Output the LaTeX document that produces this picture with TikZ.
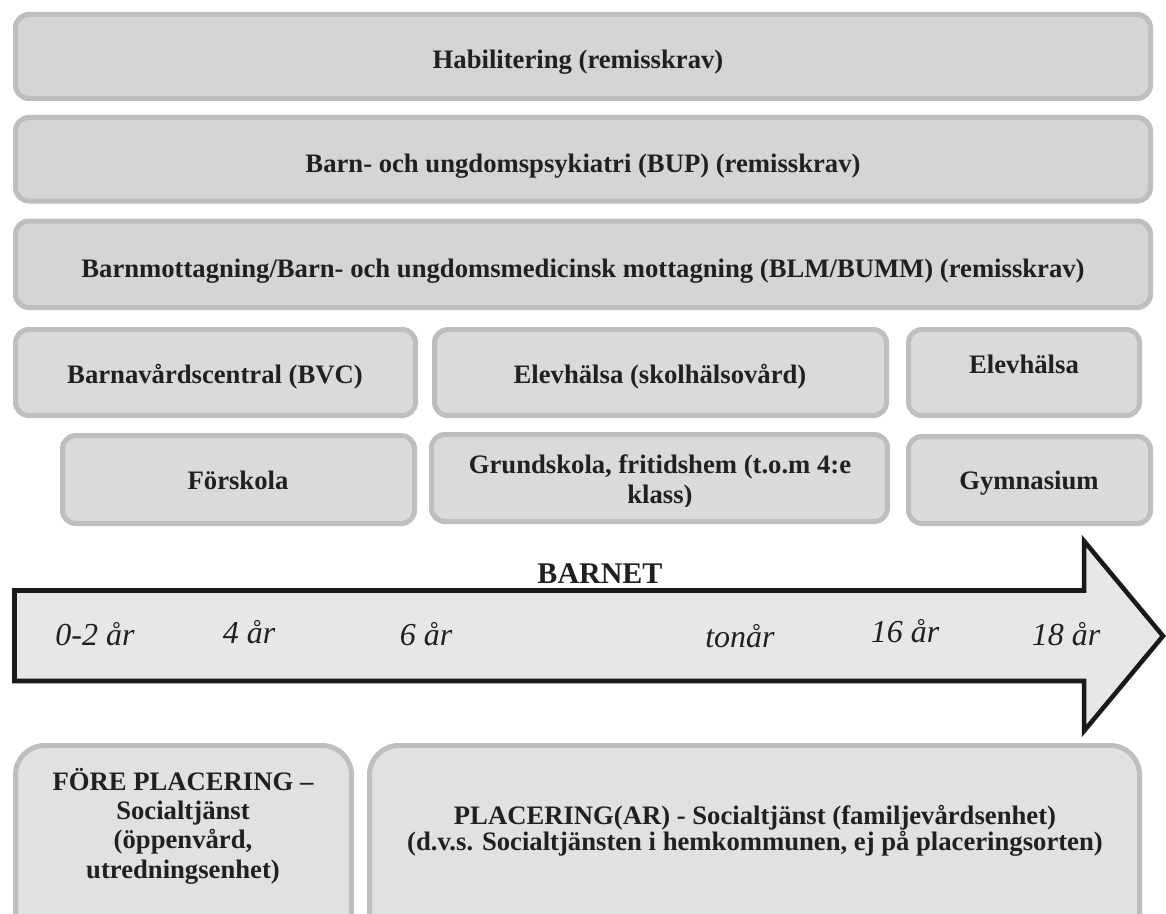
\documentclass[tikz,border=0pt]{standalone}
\usepackage{fontspec}
\setmainfont{Liberation Serif}
\usetikzlibrary{fit}
\definecolor{boxline}{HTML}{BCBEC0}
\definecolor{fillA}{HTML}{D4D5D7}
\definecolor{fillB}{HTML}{D9DADC}
\definecolor{fillC}{HTML}{E0E1E3}
\definecolor{arrowfill}{HTML}{E6E7E8}
\definecolor{textcol}{HTML}{231F20}
\begin{document}
\begin{tikzpicture}[x=0.75pt,y=-0.75pt,
  box/.style={draw=boxline, line width=3.75pt, rounded corners=10pt, inner sep=0pt},
  boxA/.style={box, fill=fillA},
  boxB/.style={box, fill=fillB},
  bigbox/.style={box, rounded corners=22pt, fill=fillC},
  lbl/.style={font=\fontsize{20}{24}\selectfont\bfseries, text=textcol, inner sep=0pt, anchor=base, align=center},
  agelbl/.style={font=\fontsize{24}{28}\selectfont\itshape, text=textcol, inner sep=0pt, anchor=base},
  bigarrow/.style={draw=black!90, line width=3.4pt, fill=arrowfill, miter limit=10}
]
\fill[white] (0,0) rectangle (1166,913);
\useasboundingbox (0,0) rectangle (1166,913);

% top full-width boxes
\node[boxA, fit={(15.5,14.5) (1150.5,98.5)}] (hab) {};
\node[lbl] (habt) at (578,69) {Habilitering (remisskrav)};
\node[boxA, fit={(15.5,117.5) (1150.5,201)}] (bup) {};
\node[lbl] (bupt) at (583,172) {Barn- och ungdomspsykiatri (BUP) (remisskrav)};
\node[boxA, fit={(15.5,221) (1150.5,307.5)}] (blm) {};
\node[lbl] (blmt) at (583,277) {Barnmottagning/Barn- och ungdomsmedicinsk mottagning (BLM/BUMM) (remisskrav)};

% row 4
\node[boxB, fit={(15.5,329.5) (415.5,415.5)}] (bvc) {};
\node[lbl] (bvct) at (215,383) {Barnavårdscentral (BVC)};
\node[boxB, fit={(434.5,329.5) (886.5,415.5)}] (elev1) {};
\node[lbl] (elev1t) at (660,383) {Elevhälsa (skolhälsovård)};
\node[boxB, fit={(908.5,329.5) (1139.5,415.5)}] (elev2) {};
\node[lbl] (elev2t) at (1024,373) {Elevhälsa};

% row 5
\node[boxB, fit={(62.5,435.5) (414.5,523.5)}] (fsk) {};
\node[lbl] (fskt) at (238,489) {Förskola};
\node[boxB, fit={(431.5,434.5) (887.5,521.5)}] (grund) {};
\begin{scope}
\clip (431.5,434.5) rectangle (887.5,506);
\node[lbl, font=\fontsize{20}{22.5}\selectfont\bfseries] (grundt) at (660,503) {Grundskola, fritidshem (t.o.m 4:e\\klass)};
\end{scope}
\node[boxB, fit={(908.5,436.5) (1150.5,523.5)}] (gym) {};
\node[lbl] (gymt) at (1029,489) {Gymnasium};

% arrow
\draw[bigarrow] (14.5,590.5) -- (1084,590.5) -- (1084,541) -- (1163,636) -- (1084,731) -- (1084,681) -- (14.5,681) -- cycle;
\node[lbl, font=\fontsize{22.5}{26}\selectfont\bfseries] (barnet) at (600,583) {BARNET};
\node[agelbl] (a1) at (95,645) {0-2 år};
\node[agelbl] (a2) at (249,643) {4 år};
\node[agelbl] (a3) at (426,645) {6 år};
\node[agelbl] (a4) at (740,647) {tonår};
\node[agelbl] (a5) at (905,642) {16 år};
\node[agelbl] (a6) at (1066,645) {18 år};

% bottom boxes
\node[bigbox, fit={(15.5,745.5) (351.5,960)}] (fore) {};
\node[lbl, font=\fontsize{20}{22}\selectfont\bfseries] (foret) at (183,878) {FÖRE PLACERING –\\Socialtjänst\\(öppenvård,\\utredningsenhet)};
\node[bigbox, fit={(369.5,745.5) (1139.5,960)}] (plac) {};
\node[lbl, font=\fontsize{20}{19}\selectfont\bfseries] (plact) at (755,850) {PLACERING(AR) - Socialtjänst (familjevårdsenhet)\\(d.v.s. Socialtjänsten i hemkommunen, ej på placeringsorten)};
\end{tikzpicture}
\end{document}
